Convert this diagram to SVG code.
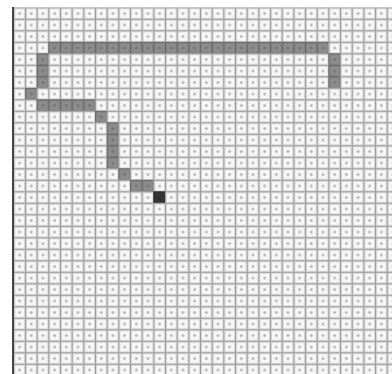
<svg xmlns="http://www.w3.org/2000/svg" width="392" height="374" viewBox="0 0 392 374">
  <defs>
    <pattern id="cell" patternUnits="userSpaceOnUse" x="13.3" y="7.3" width="11.67" height="11.5">
      <rect width="11.67" height="11.5" fill="#9c9c9c"/>
      <rect x="1" y="1" width="10.67" height="10.5" fill="#d8d8d8"/>
      <rect x="2" y="2" width="8.67" height="8.5" fill="#f7f7f7"/>
      <circle cx="6.3" cy="6.2" r="1.6" fill="#d0d0d0"/>
      <circle cx="6.3" cy="6.2" r="0.9" fill="#a8a8a8"/>
    </pattern>
  </defs>
  <style>
    .p { fill: #4a4a4a; fill-opacity: 0.62; }
    .end { fill: #1e1e1e; fill-opacity: 0.9; }
  </style>
  <rect width="392" height="374" fill="#ffffff"/>
  <rect x="13.3" y="7.3" width="378.7" height="366.7" fill="url(#cell)"/>
  <line x1="13" y1="7" x2="13" y2="374" stroke="#444" stroke-width="2"/>
  <g id="path-cells">
    <rect class="p" x="48.3" y="41.8" width="280" height="11.5"/>
    <rect class="p" x="328.4" y="53.3" width="11.67" height="34.5"/>
    <rect class="p" x="36.6" y="53.3" width="11.67" height="34.5"/>
    <rect class="p" x="25" y="87.8" width="11.67" height="11.5"/>
    <rect class="p" x="36.6" y="99.3" width="58.4" height="11.5"/>
    <rect class="p" x="95" y="110.8" width="11.67" height="11.5"/>
    <rect class="p" x="106.7" y="122.3" width="11.67" height="46"/>
    <rect class="p" x="118.3" y="168.3" width="11.67" height="11.5"/>
    <rect class="p" x="130" y="179.8" width="23.3" height="11.5"/>
    <rect class="end" x="153.3" y="191.3" width="11.67" height="11.5"/>
  </g>
</svg>
